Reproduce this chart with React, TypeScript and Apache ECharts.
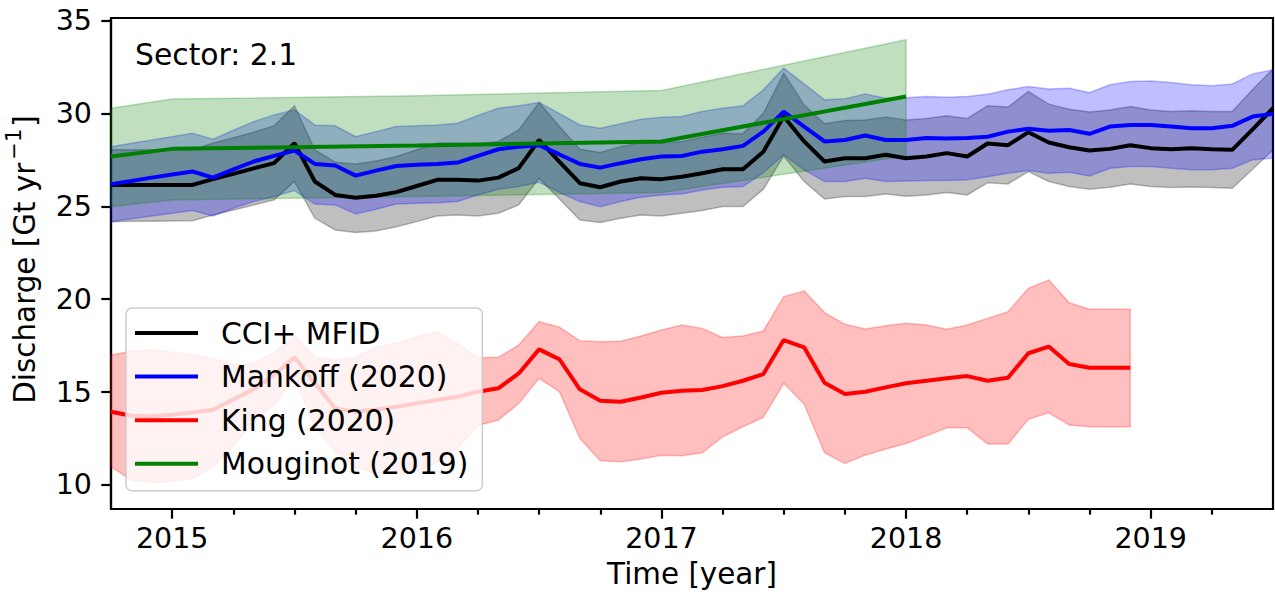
import React, { useEffect, useRef } from "react";
import * as echarts from "echarts";

const FONT = '"DejaVu Sans", Verdana, sans-serif';

// Monthly time stamps (first of month)
const cciDates = [
  "2014-10", "2014-11", "2014-12", "2015-01", "2015-02", "2015-03", "2015-04", "2015-05", "2015-06", "2015-07",
  "2015-08", "2015-09", "2015-10", "2015-11", "2015-12", "2016-01", "2016-02", "2016-03", "2016-04", "2016-05",
  "2016-06", "2016-07", "2016-08", "2016-09", "2016-10", "2016-11", "2016-12", "2017-01", "2017-02", "2017-03",
  "2017-04", "2017-05", "2017-06", "2017-07", "2017-08", "2017-09", "2017-10", "2017-11", "2017-12", "2018-01",
  "2018-02", "2018-03", "2018-04", "2018-05", "2018-06", "2018-07", "2018-08", "2018-09", "2018-10", "2018-11",
  "2018-12", "2019-01", "2019-02", "2019-03", "2019-04", "2019-05", "2019-06", "2019-07",
];
const kingDates = cciDates.slice(0, 51);
const mougDates = ["2014-10", "2015-01", "2016-01", "2017-01", "2018-01"];

// CCI+ MFID
const cciMean = [
  26.16, 26.16, 26.16, 26.16, 26.16, 26.47, 26.75, 27.05, 27.33, 28.41,
  26.34, 25.62, 25.47, 25.57, 25.77, 26.1, 26.43, 26.43, 26.39, 26.55,
  27.06, 28.58, 27.4, 26.25, 26.03, 26.34, 26.52, 26.47, 26.6, 26.79,
  27.0, 27.0, 27.95, 29.84, 28.5, 27.42, 27.6, 27.6, 27.78, 27.6,
  27.69, 27.87, 27.69, 28.39, 28.3, 29.0, 28.44, 28.19, 28.01, 28.1,
  28.3, 28.14, 28.08, 28.14, 28.08, 28.05, 29.15, 30.29,
];
const cciHigh = [
  28.05, 28.05, 28.05, 28.05, 28.05, 28.41, 28.7, 29.0, 29.34, 30.42,
  28.05, 27.38, 27.29, 27.45, 27.69, 28.05, 28.41, 28.41, 28.37, 28.5,
  29.12, 30.6, 29.3, 28.08, 27.9, 28.22, 28.44, 28.41, 28.5, 28.73,
  28.94, 28.92, 30.02, 32.18, 30.47, 29.45, 29.63, 29.66, 29.81, 29.66,
  29.74, 29.88, 29.74, 30.42, 30.35, 31.19, 30.51, 30.24, 30.08, 30.2,
  30.38, 30.2, 30.11, 30.16, 30.11, 30.11, 31.3, 32.4,
];
const cciLow = [
  24.18, 24.2, 24.2, 24.22, 24.23, 24.54, 24.8, 25.08, 25.35, 26.34,
  24.36, 23.73, 23.6, 23.68, 23.91, 24.18, 24.49, 24.54, 24.49, 24.63,
  25.08, 26.52, 25.4, 24.27, 24.13, 24.36, 24.54, 24.49, 24.63, 24.78,
  24.99, 24.99, 25.93, 27.72, 26.34, 25.4, 25.53, 25.53, 25.67, 25.55,
  25.62, 25.75, 25.62, 26.27, 26.21, 26.88, 26.34, 26.07, 25.93, 26.03,
  26.21, 26.07, 26.02, 26.05, 26.02, 25.98, 27.0, 28.05,
];

// Mankoff (2020)
const mankMean = [
  26.2, 26.37, 26.55, 26.72, 26.88, 26.55, 27.0, 27.42, 27.72, 28.01,
  27.29, 27.2, 26.66, 26.93, 27.18, 27.24, 27.29, 27.36, 27.72, 28.08,
  28.22, 28.3, 27.8, 27.29, 27.09, 27.33, 27.54, 27.69, 27.72, 27.95,
  28.08, 28.26, 29.03, 30.11, 29.3, 28.5, 28.58, 28.82, 28.58, 28.58,
  28.68, 28.66, 28.68, 28.75, 29.03, 29.18, 29.07, 29.12, 28.91, 29.3,
  29.39, 29.39, 29.3, 29.21, 29.21, 29.34, 29.84, 29.99,
];
const mankHigh = [
  28.22, 28.4, 28.58, 28.76, 28.94, 28.62, 29.1, 29.57, 29.93, 30.2,
  29.39, 29.34, 28.76, 29.03, 29.3, 29.35, 29.39, 29.48, 29.9, 30.29,
  30.42, 30.6, 30.0, 29.39, 29.21, 29.45, 29.7, 29.81, 29.84, 30.11,
  30.29, 30.42, 31.28, 32.45, 31.6, 30.74, 30.8, 31.05, 30.83, 30.85,
  30.92, 30.88, 30.92, 31.04, 31.28, 31.46, 31.33, 31.37, 31.13, 31.55,
  31.73, 31.76, 31.67, 31.55, 31.5, 31.6, 32.14, 32.36,
];
const mankLow = [
  24.18, 24.33, 24.48, 24.63, 24.78, 24.49, 24.9, 25.26, 25.53, 25.85,
  25.13, 25.08, 24.6, 24.85, 25.13, 25.17, 25.2, 25.26, 25.62, 25.93,
  26.07, 26.3, 25.75, 25.26, 24.99, 25.26, 25.5, 25.62, 25.67, 25.89,
  26.03, 26.07, 26.82, 27.78, 26.97, 26.34, 26.34, 26.52, 26.34, 26.37,
  26.39, 26.39, 26.43, 26.6, 26.79, 26.93, 26.79, 26.84, 26.64, 27.06,
  27.15, 27.15, 27.06, 26.97, 26.97, 27.06, 27.51, 27.6,
];

// King (2020)
const kingMean = [
  13.94, 13.72, 13.7, 13.78, 13.9, 14.05, 14.6, 15.15, 15.92, 16.87,
  15.47, 14.12, 13.94, 14.06, 14.21, 14.39, 14.57, 14.75, 15.02, 15.2,
  16.0, 17.3, 16.76, 15.15, 14.53, 14.48, 14.71, 14.96, 15.07, 15.11,
  15.32, 15.61, 15.97, 17.8, 17.41, 15.5, 14.89, 15.02, 15.25, 15.47,
  15.61, 15.74, 15.86, 15.61, 15.77, 17.09, 17.45, 16.51, 16.31, 16.31,
  16.31,
];
const kingHigh = [
  16.99, 17.2, 17.27, 17.15, 16.99, 16.8, 16.5, 16.54, 17.12, 18.0,
  16.9, 16.72, 16.9, 17.4, 17.65, 17.98, 18.25, 17.6, 16.85, 16.87,
  17.53, 18.79, 18.49, 17.77, 17.71, 17.74, 18.02, 18.34, 18.61, 18.43,
  17.94, 18.02, 18.29, 20.14, 20.45, 19.28, 18.65, 18.4, 18.57, 18.7,
  18.61, 18.38, 18.61, 18.97, 19.33, 20.59, 21.04, 19.81, 19.46, 19.46,
  19.46,
];
const kingLow = [
  10.97, 10.26, 10.11, 10.2, 10.35, 10.97, 12.1, 13.4, 14.3, 15.8,
  13.13, 11.8, 10.9, 10.65, 10.62, 10.75, 11.2, 12.0, 13.2, 13.49,
  14.39, 15.74, 15.02, 12.5, 11.3, 11.24, 11.39, 11.6, 11.57, 11.73,
  12.59, 13.13, 13.64, 15.47, 14.35, 11.73, 11.16, 11.6, 11.93, 12.23,
  12.64, 13.08, 13.08, 12.2, 12.2, 13.53, 13.88, 13.22, 13.13, 13.13,
  13.13,
];

// Mouginot (2019)
const mougMean = [27.69, 28.1, 28.28, 28.5, 30.92];
const mougHigh = [30.29, 30.78, 30.96, 31.24, 33.98];
const mougLow = [24.99, 25.35, 25.53, 25.75, 27.72];

const yearTicks = [2015, 2016, 2017, 2018, 2019];
const quarterTicks = [
  2015.25, 2015.5, 2015.75, 2016.25, 2016.5, 2016.75, 2017.25, 2017.5, 2017.75,
  2018.25, 2018.5, 2018.75, 2019.25,
];
const yTicks = [10, 15, 20, 25, 30, 35];

const toYear = (s: string) => {
  const [y, m] = s.split("-").map(Number);
  return y + (m - 1) / 12;
};

function band(name: string, dates: string[], lo: number[], hi: number[], fill: string, stroke: string, z: number) {
  const xs = dates.map(toYear);
  return {
    type: "custom",
    name,
    coordinateSystem: "cartesian2d",
    silent: true,
    z,
    data: xs.map((x, i) => [x, lo[i], hi[i]]),
    encode: { x: 0, y: [1, 2] },
    renderItem: (params: any, api: any) => {
      if (params.dataIndex !== 0) return null;
      const top = xs.map((x, i) => api.coord([x, hi[i]]));
      const bot = xs.map((x, i) => api.coord([x, lo[i]])).reverse();
      return {
        type: "polygon",
        shape: { points: top.concat(bot) },
        style: { fill, stroke, lineWidth: 1.5 },
      };
    },
  };
}

function line(name: string, dates: string[], vals: number[], color: string, z: number) {
  return {
    type: "line",
    name,
    z,
    data: dates.map((d, i) => [toYear(d), vals[i]]),
    showSymbol: false,
    symbol: "none",
    color,
    lineStyle: { color, width: 4 },
    itemStyle: { color },
    emphasis: { disabled: true },
  };
}

export default function App() {
  const ref = useRef<HTMLDivElement>(null);
  useEffect(() => {
    if (!ref.current) return;
    const chart = echarts.init(ref.current, undefined, { renderer: "svg" });
    const axisLineStyle = { color: "#000", width: 2.2 };
    chart.setOption({
      animation: false,
      backgroundColor: "#fff",
      grid: {
        left: 111,
        right: 2,
        top: 18,
        bottom: 88,
        show: true,
        containLabel: false,
        outerBoundsMode: "none",
        borderColor: "#000",
        borderWidth: 2.2,
        backgroundColor: "transparent",
      },
      legend: {
        data: ["CCI+ MFID", "Mankoff (2020)", "King (2020)", "Mouginot (2019)"],
        orient: "vertical",
        left: 126,
        top: 308,
        selectedMode: false,
        backgroundColor: "rgba(255,255,255,0.8)",
        borderColor: "#cccccc",
        borderWidth: 1.5,
        borderRadius: 6,
        padding: [8, 14, 10, 9],
        itemGap: 9.6,
        itemWidth: 63,
        itemHeight: 4,
        icon: "rect",
        textStyle: {
          fontFamily: FONT,
          fontSize: 29.8,
          color: "#000",
          lineHeight: 34,
          padding: [0, 0, 0, 18],
        },
      },
      xAxis: [
        {
          type: "value",
          min: 2014.75,
          max: 2019.5,
          position: "bottom",
          axisLine: { show: true, onZero: false, lineStyle: axisLineStyle },
          axisTick: { show: true, customValues: yearTicks, length: 9.7, lineStyle: axisLineStyle },
          axisLabel: {
            customValues: yearTicks,
            formatter: (v: number) => String(Math.round(v)),
            fontFamily: FONT,
            fontSize: 28.5,
            color: "#000",
            margin: 15,
          },
          splitLine: { show: false },
          name: "Time [year]",
          nameLocation: "middle",
          nameGap: 50,
          nameTextStyle: { fontFamily: FONT, fontSize: 29.4, color: "#000" },
        },
        {
          type: "value",
          min: 2014.75,
          max: 2019.5,
          position: "bottom",
          axisLine: { show: false, onZero: false },
          axisTick: { show: true, customValues: quarterTicks, length: 5.6, lineStyle: axisLineStyle },
          axisLabel: { show: false },
          splitLine: { show: false },
        },
      ],
      yAxis: {
        type: "value",
        min: 8.7,
        max: 35.15,
        axisLine: { show: true, onZero: false, lineStyle: axisLineStyle },
        axisTick: { show: true, customValues: yTicks, length: 9.7, lineStyle: axisLineStyle },
        axisLabel: {
          customValues: yTicks,
          fontFamily: FONT,
          fontSize: 28.5,
          color: "#000",
          margin: 19,
        },
        splitLine: { show: false },
        name: "{a|Discharge [Gt yr}{s|\u22121}{a|]}",
        nameLocation: "middle",
        nameRotate: 90,
        nameGap: 72,
        nameTextStyle: {
          fontFamily: FONT,
          fontSize: 29.4,
          color: "#000",
          padding: [0, 0, 0, 8],
          rich: {
            a: { fontFamily: FONT, fontSize: 29.4, color: "#000", lineHeight: 36, verticalAlign: "bottom" },
            s: { fontFamily: FONT, fontSize: 21, color: "#000", lineHeight: 36, verticalAlign: "top", padding: [0, 2, 0, 3] },
          },
        },
      },
      graphic: [
        {
          type: "text",
          left: 135,
          top: 39,
          style: { text: "Sector: 2.1", font: `29.8px ${FONT}`, fill: "#000" },
          z: 10,
        },
      ],
      series: [
        band("CCI+ MFID band", cciDates, cciLow, cciHigh, "rgba(0,0,0,0.25)", "rgba(0,0,0,0.25)", 1),
        band("Mankoff band", cciDates, mankLow, mankHigh, "rgba(0,0,255,0.25)", "rgba(0,0,255,0.25)", 1),
        band("King band", kingDates, kingLow, kingHigh, "rgba(255,0,0,0.25)", "rgba(255,0,0,0.25)", 1),
        band("Mouginot band", mougDates, mougLow, mougHigh, "rgba(0,128,0,0.25)", "rgba(0,128,0,0.25)", 1),
        line("CCI+ MFID", cciDates, cciMean, "#000000", 2),
        line("Mankoff (2020)", cciDates, mankMean, "#0000ff", 2),
        line("King (2020)", kingDates, kingMean, "#ff0000", 2),
        line("Mouginot (2019)", mougDates, mougMean, "#008000", 2),
      ],
    });
    return () => chart.dispose();
  }, []);
  return (
    <div
      ref={ref}
      style={{ position: "absolute", left: 0, top: 0, width: 1275, height: 597 }}
    />
  );
}
